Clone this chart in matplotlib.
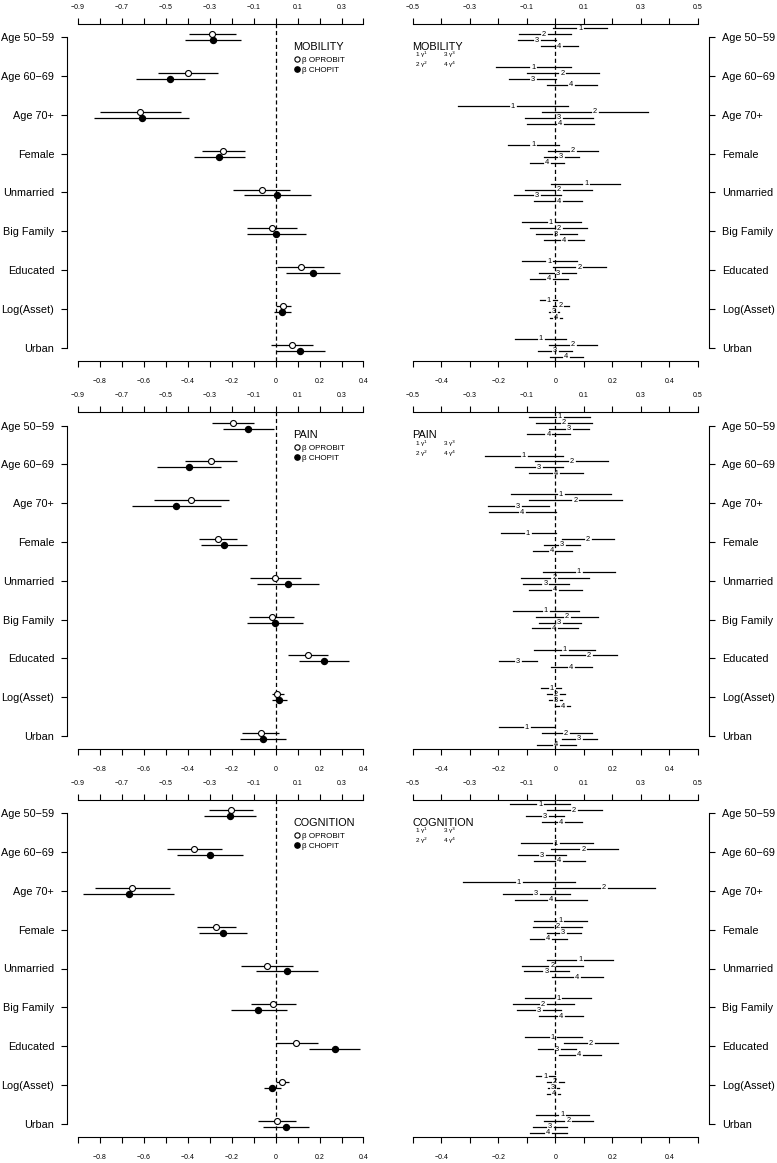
import numpy as np
import matplotlib
matplotlib.use("Agg")
import matplotlib.pyplot as plt
from matplotlib.lines import Line2D
from matplotlib.ticker import FixedLocator, FuncFormatter

plt.rcParams['font.family'] = ['Liberation Sans', 'DejaVu Sans']
plt.rcParams['lines.scale_dashes'] = False

categories = ["Age 50\u221259", "Age 60\u221269", "Age 70+", "Female", "Unmarried",
              "Big Family", "Educated", "Log(Asset)", "Urban"]

# ---- MOBILITY ----
mob_op = [-0.289, -0.400, -0.616, -0.238, -0.064, -0.018, 0.116, 0.035, 0.075]
mob_op_lo = [-0.395, -0.535, -0.801, -0.337, -0.193, -0.132, 0.005, 0.002, -0.023]
mob_op_hi = [-0.179, -0.264, -0.433, -0.140, 0.066, 0.096, 0.221, 0.069, 0.172]
mob_ch = [-0.286, -0.480, -0.611, -0.258, 0.006, 0.002, 0.169, 0.028, 0.111]
mob_ch_lo = [-0.412, -0.638, -0.828, -0.371, -0.146, -0.132, 0.046, -0.007, 0.002]
mob_ch_hi = [-0.159, -0.321, -0.394, -0.140, 0.161, 0.136, 0.295, 0.069, 0.225]

mob_g = [[0.087, -0.040, -0.065, 0.014],
         [-0.077, 0.025, -0.079, 0.056],
         [-0.149, 0.138, 0.013, 0.016],
         [-0.077, 0.061, 0.019, -0.029],
         [0.109, 0.012, -0.065, 0.012],
         [-0.015, 0.013, 0.001, 0.030],
         [-0.021, 0.084, 0.008, -0.023],
         [-0.023, 0.018, -0.005, 0.001],
         [-0.051, 0.061, -0.002, 0.037]]
mob_g_lo = [[-0.009, -0.128, -0.132, -0.051],
            [-0.208, -0.100, -0.161, -0.028],
            [-0.342, -0.048, -0.105, -0.100],
            [-0.166, -0.024, -0.040, -0.089],
            [-0.015, -0.105, -0.145, -0.075],
            [-0.118, -0.089, -0.069, -0.038],
            [-0.116, -0.007, -0.056, -0.089],
            [-0.054, -0.009, -0.022, -0.017],
            [-0.141, -0.021, -0.062, -0.019]]
mob_g_hi = [[0.182, 0.055, 0.001, 0.081],
            [0.055, 0.152, 0.001, 0.145],
            [0.046, 0.326, 0.132, 0.136],
            [0.014, 0.149, 0.082, 0.032],
            [0.227, 0.129, 0.019, 0.095],
            [0.089, 0.111, 0.075, 0.100],
            [0.075, 0.178, 0.072, 0.043],
            [0.005, 0.048, 0.013, 0.022],
            [0.037, 0.147, 0.057, 0.098]]

# ---- PAIN ----
pain_op = [-0.194, -0.296, -0.386, -0.264, -0.001, -0.018, 0.148, 0.008, -0.068]
pain_op_lo = [-0.289, -0.413, -0.553, -0.349, -0.117, -0.120, 0.055, -0.018, -0.152]
pain_op_hi = [-0.098, -0.175, -0.214, -0.178, 0.117, 0.084, 0.239, 0.038, 0.017]
pain_ch = [-0.124, -0.395, -0.453, -0.235, 0.058, -0.001, 0.219, 0.017, -0.056]
pain_ch_lo = [-0.241, -0.539, -0.653, -0.340, -0.083, -0.129, 0.108, -0.018, -0.162]
pain_ch_hi = [-0.007, -0.248, -0.251, -0.129, 0.199, 0.124, 0.333, 0.053, 0.047]

pain_g = [[0.015, 0.029, 0.049, -0.024],
          [-0.111, 0.059, -0.057, 0.002],
          [0.019, 0.070, -0.132, -0.116],
          [-0.096, 0.113, 0.022, -0.012],
          [0.082, -0.003, -0.035, -0.001],
          [-0.034, 0.040, 0.014, -0.005],
          [0.033, 0.117, -0.131, 0.054],
          [-0.013, 0.001, 0.001, 0.026],
          [-0.100, 0.037, 0.084, 0.001]]
pain_g_lo = [[-0.091, -0.069, -0.021, -0.100],
             [-0.248, -0.071, -0.140, -0.091],
             [-0.156, -0.093, -0.236, -0.232],
             [-0.190, 0.023, -0.038, -0.077],
             [-0.044, -0.120, -0.114, -0.091],
             [-0.149, -0.068, -0.058, -0.083],
             [-0.073, 0.017, -0.196, -0.016],
             [-0.049, -0.028, -0.021, -0.002],
             [-0.196, -0.048, 0.025, -0.064]]
pain_g_hi = [[0.122, 0.128, 0.119, 0.053],
             [0.028, 0.186, 0.026, 0.096],
             [0.194, 0.233, -0.023, 0.001],
             [0.001, 0.206, 0.087, 0.060],
             [0.209, 0.119, 0.048, 0.093],
             [0.083, 0.149, 0.089, 0.078],
             [0.140, 0.217, -0.063, 0.129],
             [0.020, 0.033, 0.025, 0.052],
             [-0.005, 0.128, 0.147, 0.072]]

# ---- COGNITION ----
cog_op = [-0.205, -0.371, -0.654, -0.273, -0.041, -0.013, 0.094, 0.029, 0.006]
cog_op_lo = [-0.302, -0.494, -0.824, -0.360, -0.158, -0.114, 0.000, 0.002, -0.079]
cog_op_hi = [-0.105, -0.246, -0.482, -0.182, 0.078, 0.093, 0.192, 0.060, 0.093]
cog_ch = [-0.210, -0.299, -0.670, -0.238, 0.050, -0.079, 0.268, -0.015, 0.046]
cog_ch_lo = [-0.327, -0.448, -0.880, -0.348, -0.091, -0.205, 0.154, -0.051, -0.059]
cog_ch_hi = [-0.089, -0.150, -0.463, -0.132, 0.195, 0.050, 0.385, 0.023, 0.154]

cog_g = [[-0.052, 0.066, -0.036, 0.020],
         [0.001, 0.098, -0.047, 0.014],
         [-0.128, 0.170, -0.069, -0.015],
         [0.018, 0.007, 0.028, -0.026],
         [0.087, -0.010, -0.031, 0.077],
         [0.011, -0.043, -0.058, 0.020],
         [-0.008, 0.124, 0.005, 0.084],
         [-0.035, -0.001, -0.008, -0.006],
         [0.025, 0.046, -0.020, -0.026]]
cog_g_lo = [[-0.159, -0.028, -0.103, -0.048],
            [-0.121, -0.016, -0.131, -0.075],
            [-0.325, -0.007, -0.182, -0.141],
            [-0.075, -0.077, -0.030, -0.089],
            [-0.030, -0.117, -0.110, -0.010],
            [-0.105, -0.149, -0.133, -0.056],
            [-0.107, 0.030, -0.060, 0.014],
            [-0.068, -0.030, -0.027, -0.028],
            [-0.068, -0.040, -0.079, -0.089]]
cog_g_hi = [[0.052, 0.164, 0.032, 0.092],
            [0.131, 0.218, 0.036, 0.105],
            [0.069, 0.349, 0.052, 0.112],
            [0.110, 0.095, 0.091, 0.040],
            [0.203, 0.096, 0.048, 0.166],
            [0.126, 0.064, 0.020, 0.098],
            [0.093, 0.221, 0.071, 0.159],
            [0.000, 0.029, 0.013, 0.018],
            [0.118, 0.131, 0.042, 0.040]]

panels = [
    ("MOBILITY", mob_op, mob_op_lo, mob_op_hi, mob_ch, mob_ch_lo, mob_ch_hi,
     mob_g, mob_g_lo, mob_g_hi),
    ("PAIN", pain_op, pain_op_lo, pain_op_hi, pain_ch, pain_ch_lo, pain_ch_hi,
     pain_g, pain_g_lo, pain_g_hi),
    ("COGNITION", cog_op, cog_op_lo, cog_op_hi, cog_ch, cog_ch_lo, cog_ch_hi,
     cog_g, cog_g_lo, cog_g_hi),
]

W, H = 777, 1163
fig = plt.figure(figsize=(W / 100, H / 100), dpi=100)

ypos = np.arange(1, len(categories) + 1)
TICK_FS = 5.0
LAB_FS = 7.8
LW = 0.9


def fmt(v, pos):
    if abs(v) < 1e-9:
        return "0"
    return f"{v:.1f}".replace("-", "\u2212")


def style_x(ax, lo, hi):
    vals = np.round(np.arange(lo, hi + 0.05, 0.1), 1)
    # labels alternate: odd tenths on top, even tenths on bottom
    even = [v for v in vals if round(v * 10) % 2 == 0]
    odd = [v for v in vals if round(v * 10) % 2 != 0]
    ax.xaxis.set_major_locator(FixedLocator(even))
    ax.xaxis.set_minor_locator(FixedLocator(odd))
    ax.xaxis.set_major_formatter(FuncFormatter(fmt))
    ax.xaxis.set_minor_formatter(FuncFormatter(fmt))
    ax.tick_params(axis='x', which='major', top=True, bottom=True,
                   labeltop=False, labelbottom=True, length=4, width=0.8,
                   labelsize=TICK_FS, pad=8.0)
    ax.tick_params(axis='x', which='minor', top=True, bottom=True,
                   labeltop=True, labelbottom=False, length=4, width=0.8,
                   labelsize=TICK_FS, pad=5.5)
    ax.spines['top'].set_bounds(lo, hi)
    ax.spines['bottom'].set_bounds(lo, hi)
    for s in ('top', 'bottom', 'left', 'right'):
        ax.spines[s].set_linewidth(0.8)
    ax.set_xlim(lo - 0.04 * (hi - lo), hi + 0.04 * (hi - lo))


def style_y(ax, side):
    ax.set_ylim(9.343, 0.657)
    ax.set_yticks(ypos)
    ax.set_yticklabels(categories)
    ax.tick_params(axis='y', length=4, width=0.8, pad=5, labelsize=LAB_FS)
    other = 'right' if side == 'left' else 'left'
    ax.spines[other].set_visible(False)
    ax.spines[side].set_bounds(1, len(categories))
    if side == 'right':
        ax.yaxis.tick_right()


row_tops = [24, 412.3, 800]
panel_h = 337
left_x, right_x, ax_w = 66.7, 401.2, 308.2

for r, (name, op, op_lo, op_hi, ch, ch_lo, ch_hi, g, g_lo, g_hi) in enumerate(panels):
    y0 = 1 - (row_tops[r] + panel_h) / H
    axl = fig.add_axes([left_x / W, y0, ax_w / W, panel_h / H])
    axr = fig.add_axes([right_x / W, y0, ax_w / W, panel_h / H])

    # left: beta coefficients, OPROBIT (open) above CHOPIT (filled)
    style_x(axl, -0.9, 0.4)
    style_y(axl, 'left')
    axl.axvline(0, color='black', lw=LW, ls=(0, (3, 2)), zorder=1)
    axl.hlines(ypos - 0.075, op_lo, op_hi, color='black', lw=LW, zorder=2)
    axl.hlines(ypos + 0.075, ch_lo, ch_hi, color='black', lw=LW, zorder=2)
    axl.plot(op, ypos - 0.075, 'o', mfc='white', mec='black', ms=4.3, mew=0.8, zorder=3)
    axl.plot(ch, ypos + 0.075, 'o', color='black', ms=4.3, zorder=3)
    handles = [Line2D([], [], ls='none', marker='o', mfc='white', mec='black', ms=3.8, mew=0.8),
               Line2D([], [], ls='none', marker='o', color='black', ms=3.8)]
    leg = axl.legend(handles, ["\u03b2 OPROBIT", "\u03b2 CHOPIT"], title=name,
                     loc='upper left', bbox_to_anchor=(0.736, 0.947), frameon=False,
                     fontsize=5.8, title_fontsize=LAB_FS, handlelength=0.8,
                     handletextpad=0.3, labelspacing=0.3, borderpad=0,
                     borderaxespad=0)
    leg._legend_box.align = 'left'
    leg._legend_box.sep = 3

    # right: thresholds gamma 1..4, number drawn in a gap on each line
    style_x(axr, -0.5, 0.5)
    style_y(axr, 'right')
    axr.axvline(0, color='black', lw=LW, ls=(0, (3, 2)), zorder=1)
    offs = [-0.228, -0.076, 0.076, 0.228]
    gap = 0.014
    for i in range(len(categories)):
        for j in range(4):
            y = ypos[i] + offs[j]
            e, lo, hi = g[i][j], g_lo[i][j], g_hi[i][j]
            if e - gap > lo:
                axr.plot([lo, e - gap], [y, y], color='black', lw=LW, zorder=2)
            if hi > e + gap:
                axr.plot([e + gap, hi], [y, y], color='black', lw=LW, zorder=2)
            axr.text(e, y, str(j + 1), ha='center', va='center', fontsize=5.4, zorder=3)
    axr.text(0.037, 0.947, name, transform=axr.transAxes, ha='left', va='top',
             fontsize=LAB_FS)
    for k, (a, b) in enumerate([(1, 3), (2, 4)]):
        yy = 0.907 - 0.029 * k
        axr.text(0.045, yy, f"{a} \u03b3$^{a}$", transform=axr.transAxes,
                 ha='left', va='center', fontsize=4.6)
        axr.text(0.137, yy, f"{b} \u03b3$^{b}$", transform=axr.transAxes,
                 ha='left', va='center', fontsize=4.6)

fig.savefig("out.png", dpi=100)
